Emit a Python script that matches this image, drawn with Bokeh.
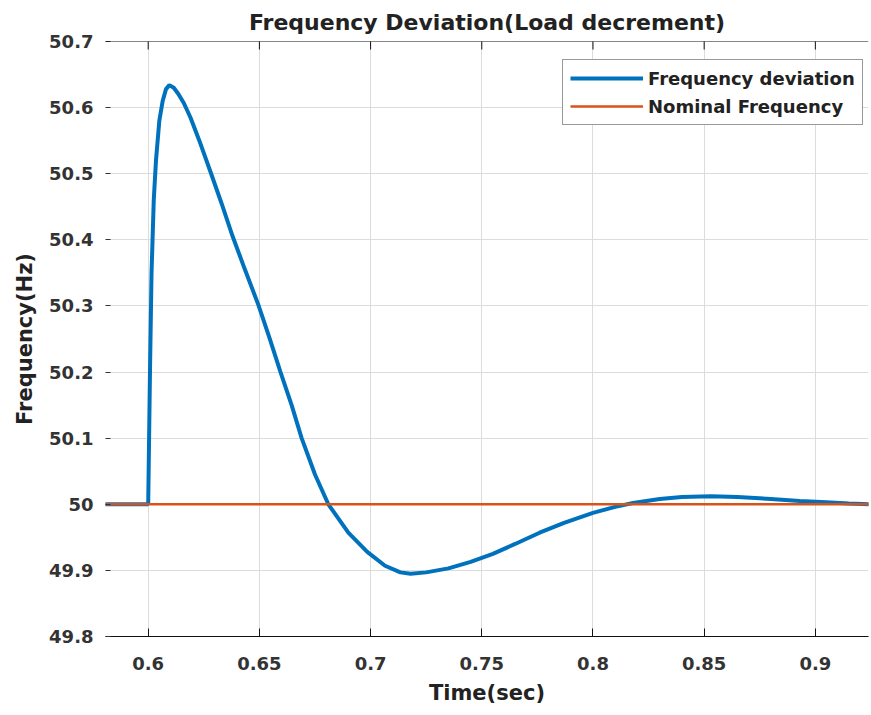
import math
from bokeh.plotting import figure
from bokeh.models import Range1d, FixedTicker, Legend, LegendItem, Span
from bokeh.embed import file_html
from bokeh.resources import INLINE

# ---- data ----
time_s = [0.58, 0.5995, 0.6, 0.6008, 0.6015, 0.6025, 0.6035, 0.605, 0.6065, 0.608,
          0.6095, 0.6115, 0.6135, 0.616, 0.619, 0.623, 0.628, 0.633, 0.638, 0.6435,
          0.6495, 0.6545, 0.6595, 0.6645, 0.669, 0.675, 0.681, 0.69, 0.6985, 0.7065,
          0.7134, 0.718, 0.725, 0.735, 0.745, 0.755, 0.765, 0.776, 0.787, 0.8,
          0.81, 0.818, 0.83, 0.84, 0.853, 0.865, 0.88, 0.893, 0.905, 0.915, 0.925]
freq_dev = [50.0, 50.0, 50.0, 50.2, 50.35, 50.46, 50.52, 50.58, 50.61, 50.628,
            50.634, 50.630, 50.621, 50.607, 50.585, 50.55, 50.503, 50.455, 50.405, 50.355,
            50.302, 50.252, 50.20, 50.15, 50.10, 50.045, 50.0, 49.957, 49.928, 49.907,
            49.897, 49.895, 49.897, 49.903, 49.913, 49.925, 49.94, 49.957, 49.972, 49.987,
            49.996, 50.002, 50.008, 50.011, 50.012, 50.011, 50.008, 50.005, 50.003, 50.001, 50.0]
nominal_t = [0.58, 0.925]
nominal_f = [50.0, 50.0]

x_ticks = [0.6, 0.65, 0.7, 0.75, 0.8, 0.85, 0.9]
x_tick_labels = ["0.6", "0.65", "0.7", "0.75", "0.8", "0.85", "0.9"]
y_ticks = [49.8, 49.9, 50.0, 50.1, 50.2, 50.3, 50.4, 50.5, 50.6, 50.7]
y_tick_labels = ["49.8", "49.9", "50", "50.1", "50.2", "50.3", "50.4", "50.5", "50.6", "50.7"]

FONT = "DejaVu Sans"
TXT = "#222222"

p = figure(width=869, height=712, output_backend="svg", toolbar_location=None,
           x_range=Range1d(0.5808, 0.9239), y_range=Range1d(y_ticks[0], y_ticks[-1]),
           min_border_left=105, min_border_right=1, min_border_top=39, min_border_bottom=76)

p.title.text = "Frequency Deviation(Load decrement)"
p.title.align = "center"
p.title.text_font = FONT
p.title.text_font_size = "22px"
p.title.text_font_style = "bold"
p.title.text_color = TXT
p.title.standoff = 14
p.title.offset = 0

blue = p.line(time_s, freq_dev, line_color="#0072BD", line_width=4)
orange = p.line(nominal_t, nominal_f, line_color="#D95319", line_width=2.5)

# axes
xa = p.xaxis[0]
xa.ticker = FixedTicker(ticks=x_ticks)
xa.major_label_overrides = {v: s for v, s in zip(x_ticks, x_tick_labels)}
xa.axis_label = "Time(sec)"
ya = p.yaxis[0]
ya.ticker = FixedTicker(ticks=y_ticks)
ya.major_label_overrides = {v: s for v, s in zip(y_ticks, y_tick_labels)}
ya.axis_label = "Frequency(Hz)"

for ax in (xa, ya):
    ax.major_label_text_font = FONT
    ax.major_label_text_font_size = "18px"
    ax.major_label_text_font_style = "bold"
    ax.major_label_text_color = "#333333"
    ax.axis_label_text_font = FONT
    ax.axis_label_text_font_size = "21px"
    ax.axis_label_text_font_style = "bold"
    ax.axis_label_text_color = TXT
    ax.minor_tick_line_color = None
    ax.major_tick_out = 0

xa.axis_line_color = "#111111"
xa.major_tick_in = 8
xa.major_tick_line_color = "#111111"
xa.major_label_standoff = 20
xa.axis_label_standoff = 8

ya.axis_line_color = None
ya.major_tick_in = 5
ya.major_tick_line_color = "#333333"
ya.major_label_standoff = 12
ya.axis_label_standoff = 9

# top box line and inward top ticks
p.add_layout(Span(location=y_ticks[-1], dimension="width", line_color="#111111", line_width=1))
p.scatter(x=x_ticks, y=[y_ticks[-1]] * len(x_ticks), marker="dash", angle=math.pi / 2,
          size=16, line_color="#111111", line_width=1)

p.xgrid.ticker = FixedTicker(ticks=x_ticks)
p.ygrid.ticker = FixedTicker(ticks=y_ticks)
p.grid.grid_line_color = "#dcdcdc"
p.grid.grid_line_width = 1
p.outline_line_color = None
p.background_fill_color = "white"
p.border_fill_color = "white"

legend = Legend(items=[LegendItem(label="Frequency deviation", renderers=[blue]),
                       LegendItem(label="Nominal Frequency", renderers=[orange])],
                location=(457, 511), orientation="vertical")
legend.label_text_font = FONT
legend.label_text_font_size = "18px"
legend.label_text_font_style = "bold"
legend.label_text_color = TXT
legend.glyph_width = 73
legend.glyph_height = 22
legend.label_height = 22
legend.label_standoff = 5
legend.spacing = 6
legend.padding = 7
legend.margin = 0
legend.border_line_color = "#333333"
legend.border_line_width = 1
legend.background_fill_alpha = 1
p.add_layout(legend, "center")

open("out.html", "w").write(file_html(p, INLINE))
